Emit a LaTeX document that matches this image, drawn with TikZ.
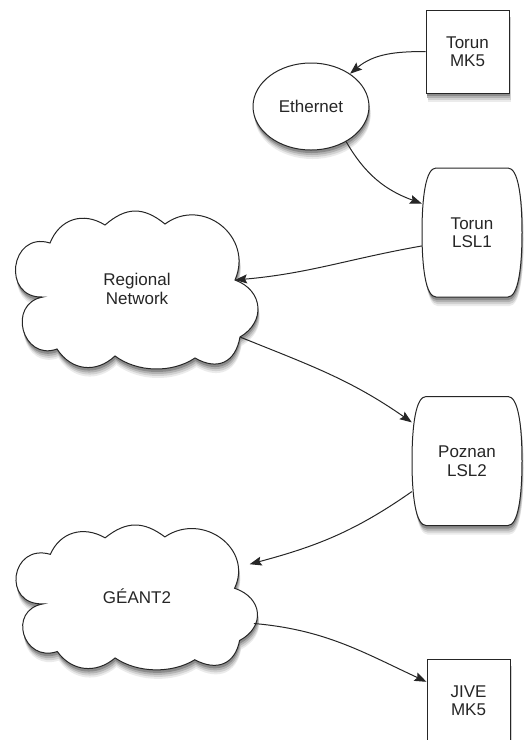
\documentclass[tikz,border=0pt]{standalone}
\usepackage{fontspec}
\setmainfont{Liberation Sans}
\usetikzlibrary{shapes.geometric,arrows.meta,calc}
\pgfdeclarelayer{background}
\pgfsetlayers{background,main}
\tikzset{
  lbl/.style={font=\fontsize{17}{18.5}\selectfont, text=black!85, align=center},
  shape line/.style={draw=black!85, line width=1pt, fill=white},
  shadow a/.style={draw=none, fill=black!8},
  shadow b/.style={draw=none, fill=black!18},
  shadow c/.style={draw=none, fill=black!30},
  shadow d/.style={draw=none, fill=black!45},
  boxnode/.style={lbl, shape line, rectangle, minimum width=83pt, minimum height=83pt, inner sep=0pt},
  ellnode/.style={lbl, shape line, ellipse, minimum width=116pt, minimum height=87pt, inner sep=0pt},
  lslnode/.style={lbl, rectangle, inner sep=0pt, minimum height=129pt},
  cloudnode/.style={lbl, ellipse, inner sep=0pt},
  conn/.style={draw=black!85, line width=1pt, -{Stealth[length=12pt,width=9pt,inset=2pt]}},
}
% #1 node, #2 half width, #3 half height, #4 style, #5 shift
\newcommand\lslat[5]{%
  \begin{scope}[shift={(#1.center)}, shift={#5}]
  \path[#4] (-#2+14,#3) -- (#2-14,#3)
    .. controls (#2-4,#3) and (#2,#3-28) .. (#2,0)
    .. controls (#2,-#3+28) and (#2-4,-#3) .. (#2-14,-#3)
    -- (-#2+14,-#3)
    .. controls (-#2+4,-#3) and (-#2,-#3+28) .. (-#2,0)
    .. controls (-#2,#3-28) and (-#2+4,#3) .. cycle;
  \end{scope}}
\newcommand\rectat[5]{%
  \begin{scope}[shift={(#1.center)}, shift={#5}]
  \path[#4] (-#2,-#3) rectangle (#2,#3);
  \end{scope}}
\newcommand\ellat[5]{%
  \begin{scope}[shift={(#1.center)}, shift={#5}]
  \path[#4] (0,0) ellipse [x radius=#2, y radius=#3];
  \end{scope}}
% #1 node, #2 xscale, #3 yscale, #4 style, #5 shift
\newcommand\cloudat[5]{%
  \begin{scope}[shift={(#1.center)}, shift={#5}, xscale=#2, yscale=#3]
  \path[#4] (-94,-8) coordinate (#1-1)
    to[bend left=100,looseness=1.97] (-87,46) coordinate (#1-2)
    to[bend left=50,looseness=1.15] (-32,64) coordinate (#1-3)
    to[bend left=40,looseness=1.19] (28,65) coordinate (#1-4)
    to[bend left=75,looseness=1.34] (98,9) coordinate (#1-5)
    to[bend left=65,looseness=1.35] (103,-48) coordinate (#1-6)
    to[bend left=55,looseness=1.34] (58,-69) coordinate (#1-7)
    to[bend left=35,looseness=0.89] (-22,-67) coordinate (#1-8)
    to[bend left=50,looseness=1.14] (-80,-60) coordinate (#1-9)
    to[bend left=95,looseness=1.76] (-94,-8) -- cycle;
  \end{scope}}
\newcommand\shadowonly[1]{#1{shadow a}{(1.5,-9)}#1{shadow b}{(1.5,-7)}#1{shadow c}{(1,-5)}#1{shadow d}{(0.5,-3)}}
\newcommand\withshadow[1]{\shadowonly{#1}#1{shape line}{(0,0)}}
\begin{document}
\begin{tikzpicture}[x=1pt,y=1pt]
\useasboundingbox (0,0) rectangle (523,-740);
\node[boxnode] (mk5) at (467.5,-51.5) {Torun\\MK5};
\node[ellnode] (eth) at (311,-106.5) {Ethernet};
\node[lslnode, minimum width=100pt] (lsl1) at (472,-232.5) {Torun\\LSL1};
\node[cloudnode, minimum width=242pt, minimum height=156pt] (reg) at (137,-289) {Regional\\Network};
\node[lslnode, minimum width=110pt] (lsl2) at (467,-461) {Poznan\\LSL2};
\node[cloudnode, minimum width=252pt, minimum height=143pt] (geant) at (137,-596.5) {GÉANT2};
\node[boxnode] (jive) at (468.5,-700.5) {JIVE\\MK5};
\begin{pgfonlayer}{background}
\shadowonly{\rectat{mk5}{41.5}{41.5}}
\shadowonly{\ellat{eth}{58}{43.5}}
\shadowonly{\rectat{jive}{41.5}{41.5}}
\withshadow{\lslat{lsl1}{50}{64.5}}
\withshadow{\lslat{lsl2}{55}{64.5}}
\withshadow{\cloudat{reg}{1}{1}}
\withshadow{\cloudat{geant}{0.996}{0.917}}
\end{pgfonlayer}
\draw[conn] (mk5.west) to[out=180,in=40] (eth.40);
\draw[conn] (eth.-45) to[out=-60,in=160] (lsl1.150);
\draw[conn] (lsl1.195) to[out=190,in=5] (reg-5);
\draw[conn] (reg-6) to[out=-22,in=145] (lsl2.145);
\draw[conn] (lsl2.209) to[out=215,in=15] (geant.16);
\draw[conn] (geant.-13) to[out=-5,in=155] (jive.156);
\end{tikzpicture}
\end{document}
